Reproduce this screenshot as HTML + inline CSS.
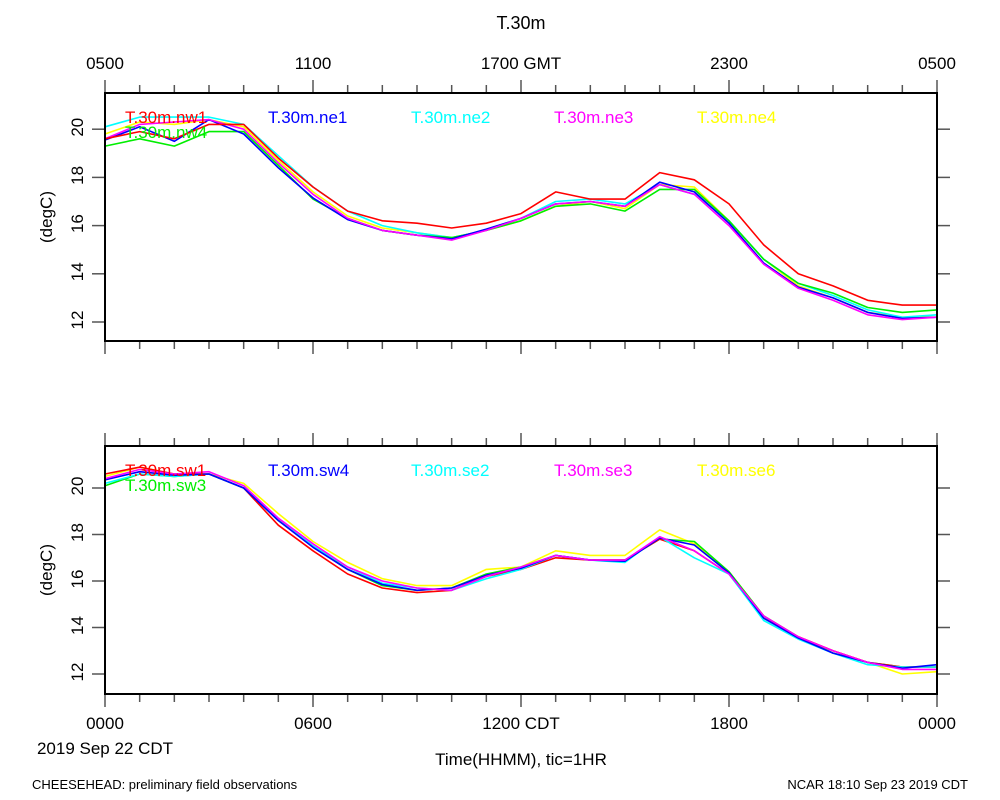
<!DOCTYPE html>
<html><head><meta charset="utf-8"><style>
html,body{margin:0;padding:0;background:#fff;}
svg{display:block;font-family:"Liberation Sans",sans-serif;}
</style></head><body>
<svg id="chart" width="1000" height="800" viewBox="0 0 1000 800">
<text x="521" y="29" font-size="18" text-anchor="middle">T.30m</text>
<text x="32" y="789" font-size="13">CHEESEHEAD: preliminary field observations</text>
<text x="968" y="789" font-size="13" text-anchor="end">NCAR 18:10 Sep 23 2019 CDT</text>
<text x="105" y="754" font-size="17" text-anchor="middle">2019 Sep 22 CDT</text>
<text x="521" y="765" font-size="17" text-anchor="middle">Time(HHMM), tic=1HR</text>
</svg>
<script>
const hours = [0,1,2,3,4,5,6,7,8,9,10,11,12,13,14,15,16,17,18,19,20,21,22,23,24];
const topLabels = ["0500","1100","1700 GMT","2300","0500"];
const bottomLabels = ["0000","0600","1200 CDT","1800","0000"];
const yTicks = [12,14,16,18,20];
const topNames = ["T.30m.nw1","T.30m.ne1","T.30m.ne2","T.30m.ne3","T.30m.ne4","T.30m.nw4"];
const bottomNames = ["T.30m.sw1","T.30m.sw4","T.30m.se2","T.30m.se3","T.30m.se6","T.30m.sw3"];
const colors = ["#ff0000","#0000ff","#00ffff","#ff00ff","#ffff00","#00ee00"];
const nw1 = [19.6,19.9,19.6,20.2,20.2,18.8,17.6,16.6,16.2,16.1,15.9,16.1,16.5,17.4,17.1,17.1,18.2,17.9,16.9,15.2,14.0,13.5,12.9,12.7,12.7];
const ne1 = [19.55,20.1,19.5,20.4,19.8,18.4,17.15,16.25,15.8,15.6,15.45,15.85,16.3,16.9,17.0,16.8,17.8,17.4,16.1,14.45,13.45,13.0,12.4,12.15,12.2];
const ne2 = [20.1,20.5,20.5,20.5,20.2,18.9,17.6,16.6,16.0,15.7,15.5,15.8,16.3,17.0,17.1,16.9,17.7,17.3,16.2,14.6,13.6,13.1,12.5,12.2,12.3];
const ne3 = [19.6,20.2,20.3,20.4,20.0,18.6,17.3,16.3,15.8,15.6,15.4,15.8,16.3,16.9,17.0,16.8,17.7,17.3,16.0,14.4,13.4,12.9,12.3,12.1,12.2];
const ne4 = [19.8,20.3,20.2,20.4,20.1,18.7,17.4,16.4,15.9,15.7,15.5,15.8,16.2,16.8,17.0,16.7,17.7,17.6,16.2,14.6,13.5,13.0,12.4,12.2,12.2];
const nw4 = [19.3,19.6,19.3,19.9,19.9,18.5,17.1,16.3,15.8,15.6,15.5,15.8,16.2,16.8,16.9,16.6,17.5,17.5,16.2,14.6,13.6,13.2,12.6,12.4,12.5];
const sw1 = [20.6,20.9,20.6,20.6,20.0,18.4,17.3,16.3,15.7,15.5,15.6,16.2,16.5,17.0,16.9,16.9,17.8,17.3,16.3,14.4,13.6,13.0,12.5,12.3,12.3];
const sw4 = [20.35,20.7,20.55,20.6,20.0,18.6,17.45,16.5,15.85,15.6,15.7,16.25,16.55,17.1,16.9,16.85,17.85,17.55,16.35,14.4,13.55,12.9,12.5,12.25,12.4];
const se2 = [20.2,20.6,20.5,20.6,20.0,18.7,17.5,16.6,15.9,15.7,15.6,16.1,16.5,17.1,16.9,16.8,17.9,17.0,16.3,14.3,13.5,12.9,12.4,12.3,12.3];
const se3 = [20.4,20.8,20.6,20.7,20.1,18.7,17.6,16.6,16.0,15.7,15.6,16.2,16.6,17.1,16.9,16.9,17.9,17.3,16.3,14.5,13.6,13.0,12.5,12.2,12.2];
const se6 = [20.5,20.9,20.6,20.6,20.2,18.9,17.7,16.8,16.1,15.8,15.8,16.5,16.6,17.3,17.1,17.1,18.2,17.6,16.4,14.5,13.6,13.0,12.5,12.0,12.1];
const sw3 = [20.1,20.6,20.5,20.6,20.0,18.6,17.5,16.5,15.8,15.6,15.7,16.3,16.6,17.1,16.9,16.9,17.8,17.7,16.4,14.5,13.6,12.9,12.5,12.3,12.3];

const svg = document.getElementById('chart');
const NS = 'http://www.w3.org/2000/svg';
function mk(tag, attrs){const e=document.createElementNS(NS,tag);for(const k in attrs)e.setAttribute(k,attrs[k]);return e;}
const X0=105, X1=937;
function xs(h){return X0+(X1-X0)*h/24;}

function panel(cfg){
  const g = mk('g',{});
  
  
  svg.appendChild(g);
  const ys = v => cfg.y0 + (cfg.t0 - v)*cfg.k;
  for(let h=0;h<=24;h++){
    const L = h%6===0?13:8;
    const t1 = mk('line',{x1:xs(h),x2:xs(h),y1:cfg.top,y2:cfg.top-L,stroke:'#555','stroke-width':1.5});
    
    
    g.appendChild(t1);
    const t2 = mk('line',{x1:xs(h),x2:xs(h),y1:cfg.bot,y2:cfg.bot+L,stroke:'#555','stroke-width':1.5});
    
    
    g.appendChild(t2);
  }
  yTicks.forEach(v=>{
    const y=ys(v);
    const a=mk('line',{x1:X0,x2:X0-13,y1:y,y2:y,stroke:'#555','stroke-width':1.5});
    
    
    g.appendChild(a);
    const b=mk('line',{x1:X1,x2:X1+13,y1:y,y2:y,stroke:'#555','stroke-width':1.5});
    
    
    g.appendChild(b);
    const t=mk('text',{x:0,y:0,'font-size':17,'text-anchor':'middle',transform:`translate(83,${y-2}) rotate(-90)`});
    t.textContent=v;
    
    
    g.appendChild(t);
  });
  const yt=mk('text',{x:0,y:0,'font-size':17,'text-anchor':'middle',transform:`translate(52,${(cfg.top+cfg.bot)/2}) rotate(-90)`});
  yt.textContent='(degC)';
  
  
  g.appendChild(yt);
  cfg.order.forEach(i=>{
    const d=cfg.series[i].map((v,j)=>(j?'L':'M')+xs(hours[j]).toFixed(1)+','+ys(v).toFixed(1)).join(' ');
    const p=mk('path',{d:d,fill:'none',stroke:colors[i],'stroke-width':1.6,'stroke-linejoin':'round'});
    
    
    g.appendChild(p);
  });
  const r=mk('rect',{x:X0,y:cfg.top,width:X1-X0,height:cfg.bot-cfg.top,fill:'none',stroke:'#000','stroke-width':2});
  
  
  g.appendChild(r);
  cfg.names.forEach((n,i)=>{
    const lx = i<5 ? 125+143*i : 125;
    const ly = i<5 ? cfg.top+30 : cfg.top+45;
    const t=mk('text',{x:lx,y:ly,'font-size':17,fill:colors[i]});
    t.textContent=n;
    
    
    g.appendChild(t);
  });
  cfg.xlabels.forEach((s,i)=>{
    const t=mk('text',{x:xs(i*6),y:cfg.xly,'font-size':17,'text-anchor':'middle'});
    t.textContent=s;
    
    
    g.appendChild(t);
  });
}
panel({name:'top-panel',top:93,bot:341,y0:322,t0:12,k:24.1,series:[nw1,ne1,ne2,ne3,ne4,nw4],names:topNames,order:[4,2,5,1,3,0],xlabels:topLabels,xly:69});
panel({name:'bottom-panel',top:446,bot:694,y0:674,t0:12,k:23.25,series:[sw1,sw4,se2,se3,se6,sw3],names:bottomNames,order:[4,5,0,2,1,3],xlabels:bottomLabels,xly:729});
</script>
</body></html>
